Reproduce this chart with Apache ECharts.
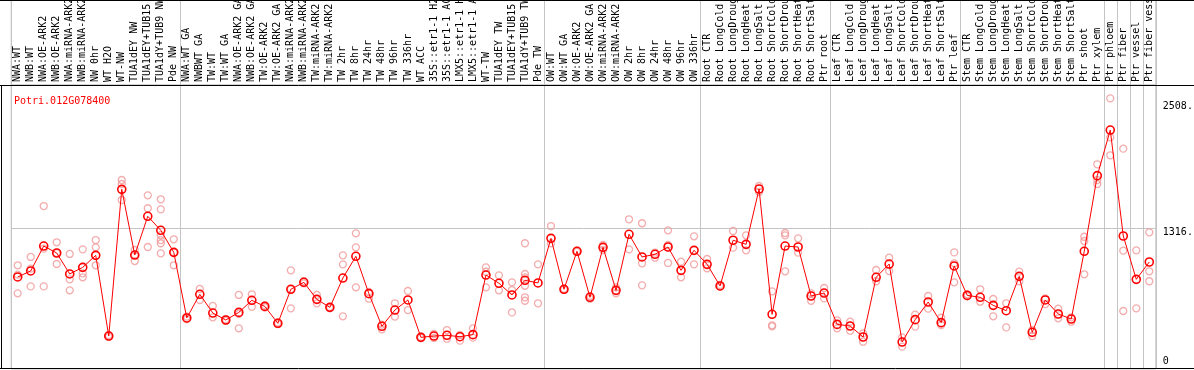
<!DOCTYPE html>
<html>
<head>
<meta charset="utf-8">
<script src="https://cdn.jsdelivr.net/npm/echarts@6/dist/echarts.min.js"></script>
<style>
  html, body { margin: 0; padding: 0; background: #fff; }
  #chart { width: 1194px; height: 370px; }
</style>
</head>
<body>
<div id="chart"></div>
<script>
const geneId = 'Potri.012G078400';

const categories = [
  'NWA:WT', 'NWB:WT', 'NWA:OE-ARK2', 'NWB:OE-ARK2', 'NWA:miRNA-ARK2', 'NWB:miRNA-ARK2',
  'NW 0hr', 'WT H2O', 'WT-NW', 'TUA1dEY NW', 'TUA1dEY+TUB15 NW', 'TUA1dY+TUB9 NW', 'Pde NW',
  'NWA:WT GA', 'NWBWT GA', 'TW:WT', 'TW:WT GA', 'NWA:OE-ARK2 GA', 'NWB:OE-ARK2 GA',
  'TW:OE-ARK2', 'TW:OE-ARK2 GA', 'NWA:miRNA-ARK2', 'NWB:miRNA-ARK2', 'TW:miRNA-ARK2', 'TW:miRNA-ARK2',
  'TW 2hr', 'TW 8hr', 'TW 24hr', 'TW 48hr', 'TW 96hr', 'TW 336hr', 'WT ACC',
  '35S::etr1-1 H2O', '35S::etr1-1 ACC', 'LMX5::etr1-1 H2O', 'LMX5::etr1-1 ACC',
  'WT-TW', 'TUA1dEY TW', 'TUA1dEY+TUB15 TW', 'TUA1dY+TUB9 TW', 'Pde TW',
  'OW:WT', 'OW:WT GA', 'OW:OE-ARK2', 'OW:OE-ARK2 GA', 'OW:miRNA-ARK2', 'OW:miRNA-ARK2',
  'OW 2hr', 'OW 8hr', 'OW 24hr', 'OW 48hr', 'OW 96hr', 'OW 336hr',
  'Root CTR', 'Root LongCold', 'Root LongDrought', 'Root LongHeat', 'Root LongSalt',
  'Root ShortCold', 'Root ShortDrought', 'Root ShortHeat', 'Root ShortSalt', 'Ptr root',
  'Leaf CTR', 'Leaf LongCold', 'Leaf LongDrought', 'Leaf LongHeat', 'Leaf LongSalt',
  'Leaf ShortCold', 'Leaf ShortDrought', 'Leaf ShortHeat', 'Leaf ShortSalt', 'Ptr leaf',
  'Stem CTR', 'Stem LongCold', 'Stem LongDrought', 'Stem LongHeat', 'Stem LongSalt',
  'Stem ShortCold', 'Stem ShortDrought', 'Stem ShortHeat', 'Stem ShortSalt', 'Ptr shoot',
  'Ptr xylem', 'Ptr phloem', 'Ptr fiber', 'Ptr vessel', 'Ptr fiber vessel'
];

const meanValues = [
  860, 916, 1149, 1084, 888, 950, 1062, 308, 1679, 1065, 1427, 1296, 1090,
  477, 698, 523, 458, 529, 642, 585, 427, 745, 810, 651, 576, 850, 1053, 704, 399, 551, 645,
  296, 308, 315, 302, 321, 878, 801, 692, 829, 804,
  1221, 745, 1100, 670, 1137, 735, 1259, 1047, 1072, 1140, 922, 1109,
  978, 776, 1203, 1165, 1682, 511, 1149, 1140, 682, 710,
  417, 402, 299, 857, 981, 252, 461, 626, 433, 963,
  688, 670, 595, 545, 866, 343, 645, 514, 467, 1100, 1807,
  2233, 1243, 838, 1000
];

const replicateValues = [
  [969, 882, 707], [1047, 938, 772], [1523, 1125, 772], [1184, 1084, 981],
  [1075, 838, 735], [1118, 894, 857], [1205, 1137, 969], [318, 300],
  [1766, 1729, 1579], [1112, 1065, 1009], [1623, 1502, 1140],
  [1586, 1492, 1252, 1205, 1175, 1081], [1212, 1090, 969],
  [490, 465], [748, 645], [589, 483], [465, 450], [692, 515, 380], [698, 582],
  [595, 575], [435, 420], [922, 745, 567], [820, 800], [692, 614], [580, 570],
  [1062, 978, 492], [1268, 1137, 763], [720, 657], [371, 415], [614, 489], [729, 551],
  [290, 302], [327, 290], [364, 283], [318, 265], [380, 293],
  [950, 909, 763], [875, 735], [810, 738, 529], [1175, 888, 857, 778, 670, 638], [978, 614],
  [1336, 1175], [750, 740], [1105, 1095], [682, 657], [1159, 1112], [763, 707],
  [1399, 1118], [1362, 988, 782], [1087, 1040], [1296, 1159, 991], [1003, 857], [1240, 978],
  [1028, 941], [785, 768], [1290, 1134], [1249, 1109], [1710, 1654], [726, 408, 399],
  [1271, 1249, 913], [1221, 1087], [707, 638], [757, 660],
  [455, 380], [442, 358], [333, 255], [925, 820], [1040, 916], [296, 209],
  [508, 396], [682, 564], [479, 411], [1090, 988, 810],
  [698, 679], [745, 629], [654, 492], [614, 389], [910, 820], [364, 308],
  [660, 607], [564, 474], [483, 442], [1236, 1196, 885], [1913, 1766, 1729],
  [2529, 2165, 1997], [2059, 1106, 542], [1109, 567], [1277, 913, 820]
];

const yTickValues = [0, 1316, 2508];
const yTickLabels = ['0', '1316.', '2508.'];
const referenceLineValue = 1316;
const groupStarts = [13, 41, 53, 63, 73, 84, 85, 86, 87];

// ---- build chart ----
const FONT = 'DejaVu Sans Mono';
const GRAY = '#c4c4c4';
const replicateData = [];
replicateValues.forEach((reps, i) => reps.forEach(v => replicateData.push([i, v])));

const gridLeft = 11.2, gridWidth = 1144.6, plotTop = 85, plotBottomY = 369;
const chart = echarts.init(document.getElementById('chart'), null, { renderer: 'canvas' });

const sepInterval = (idx) => idx === 0 || groupStarts.indexOf(idx) >= 0;

const richLbl = (pad) => ({ fontFamily: FONT, fontSize: 10, color: '#000', padding: pad });

chart.setOption({
  animation: false,
  backgroundColor: '#fff',
  title: {
    text: geneId, left: 9, top: 91,
    textStyle: { color: '#ff0000', fontFamily: FONT, fontSize: 10, fontWeight: 'normal' }
  },
  grid: [
    { left: gridLeft, width: gridWidth, top: plotTop, height: plotBottomY - plotTop,
      outerBoundsMode: 'none', containLabel: false,
      show: true, borderColor: GRAY, borderWidth: 1, backgroundColor: 'transparent' },
    { left: gridLeft, width: gridWidth, top: 0, height: plotTop,
      outerBoundsMode: 'none', containLabel: false,
      show: true, borderColor: GRAY, borderWidth: 1, backgroundColor: 'transparent' }
  ],
  xAxis: [
    {
      type: 'category', data: categories, gridIndex: 0, position: 'top', boundaryGap: true,
      axisLine: { show: false }, axisTick: { show: false },
      axisLabel: { interval: 0, rotate: 90, margin: 3, fontFamily: FONT, fontSize: 10, color: '#000' },
      splitLine: { show: true, interval: sepInterval, lineStyle: { color: GRAY, width: 1 } }
    },
    {
      type: 'category', data: categories, gridIndex: 1, boundaryGap: true,
      axisLine: { show: false }, axisTick: { show: false }, axisLabel: { show: false },
      splitLine: { show: true, interval: sepInterval, lineStyle: { color: GRAY, width: 1 } }
    }
  ],
  yAxis: [
    {
      type: 'value', gridIndex: 0, position: 'right', min: 0, max: 2654,
      axisLine: { show: false }, axisTick: { show: false }, splitLine: { show: false },
      axisLabel: {
        customValues: yTickValues, margin: 7, fontFamily: FONT, fontSize: 10, color: '#000',
        formatter: (v) => {
          const k = yTickValues.indexOf(Number(v));
          return k < 0 ? '' : '{t' + k + '|' + yTickLabels[k] + '}';
        },
        rich: { t0: richLbl([0, 0, 15, 0]), t1: richLbl([9, 0, 0, 0]), t2: richLbl([12, 0, 0, 0]) }
      }
    },
    { type: 'value', gridIndex: 1, show: false, min: 0, max: 1 }
  ],
  series: [
    {
      type: 'scatter', name: 'replicates', xAxisIndex: 0, yAxisIndex: 0, z: 2,
      data: replicateData, symbol: 'circle', symbolSize: 7,
      itemStyle: { color: 'rgba(255,255,255,0)', borderColor: '#f0989a', borderWidth: 1.3 },
      emphasis: { disabled: true },
      markLine: {
        silent: true, symbol: ['none', 'none'], z: 1,
        label: { show: false },
        lineStyle: { color: GRAY, width: 1, type: 'solid' },
        data: [{ yAxis: referenceLineValue }]
      }
    },
    {
      type: 'line', name: geneId, xAxisIndex: 0, yAxisIndex: 0, z: 3,
      data: meanValues, symbol: 'circle', symbolSize: 8, showAllSymbol: true,
      lineStyle: { color: '#ff0000', width: 1 },
      itemStyle: { color: 'rgba(255,255,255,0)', borderColor: '#ff0000', borderWidth: 1.6 },
      emphasis: { disabled: true }
    }
  ],
  graphic: [
    { type: 'line', z: 100, shape: { x1: 0, y1: 0.5, x2: 1194, y2: 0.5 }, style: { stroke: '#000', lineWidth: 1 } },
    { type: 'line', z: 100, shape: { x1: 0, y1: 85.5, x2: 1194, y2: 85.5 }, style: { stroke: '#000', lineWidth: 1 } },
    { type: 'line', z: 100, shape: { x1: 0, y1: 368.5, x2: 1194, y2: 368.5 }, style: { stroke: '#000', lineWidth: 1 } },
    { type: 'line', z: 100, shape: { x1: 1.5, y1: 85, x2: 1.5, y2: 369 }, style: { stroke: '#000', lineWidth: 1 } }
  ]
});
</script>
</body>
</html>
